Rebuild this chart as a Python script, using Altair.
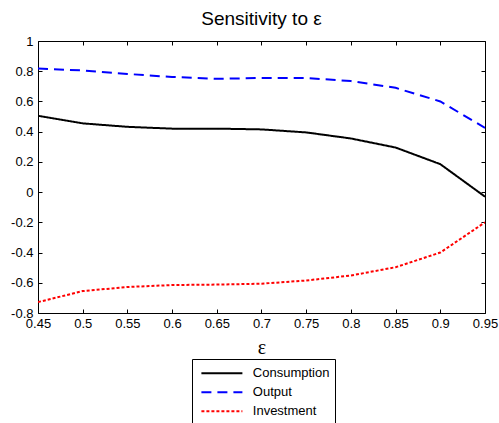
import altair as alt
import pandas as pd

eps = [0.45, 0.50, 0.55, 0.60, 0.65, 0.70, 0.75, 0.80, 0.85, 0.90, 0.95]
consumption = [0.505, 0.455, 0.432, 0.420, 0.420, 0.415, 0.395, 0.355, 0.295, 0.185, -0.030]
output = [0.818, 0.805, 0.782, 0.762, 0.750, 0.755, 0.755, 0.735, 0.690, 0.600, 0.425]
investment = [-0.728, -0.655, -0.628, -0.615, -0.612, -0.606, -0.585, -0.552, -0.497, -0.400, -0.200]

series_names = ["Consumption", "Output", "Investment"]
series_colors = ["#000000", "#0000ff", "#ff0000"]
series_dashes = [[1, 0], [10, 6], [3, 2]]

x_ticks = [0.45, 0.5, 0.55, 0.6, 0.65, 0.7, 0.75, 0.8, 0.85, 0.9, 0.95]
y_ticks = [-0.8, -0.6, -0.4, -0.2, 0, 0.2, 0.4, 0.6, 0.8, 1]

rows = []
for name, vals in zip(series_names, [consumption, output, investment]):
    for e, v in zip(eps, vals):
        rows.append({"eps": e, "value": v, "series": name})
df = pd.DataFrame(rows)

x_scale = alt.Scale(domain=[0.45, 0.95], nice=False, zero=False)
y_scale = alt.Scale(domain=[-0.8, 1], nice=False, zero=False)

FONT = "Liberation Sans"
minus_fix = "replace(datum.label, '\u2212', '-')"

legend = alt.Legend(
    title=None, orient="none", legendX=154, legendY=318,
    symbolType="stroke", symbolSize=1681, symbolStrokeWidth=2,
    labelFont=FONT, labelFontSize=13, labelColor="black",
    strokeColor="black", fillColor="white", padding=5,
    clipHeight=18.5, rowPadding=0, symbolOffset=3.4, labelOffset=9.4,
)

lines = alt.Chart(df).mark_line(strokeWidth=2, clip=True).encode(
    x=alt.X("eps:Q", scale=x_scale, axis=alt.Axis(
        orient="bottom", values=x_ticks, offset=-4, tickSize=4, domain=False,
        grid=False, format="~g", labelFont=FONT, labelFontSize=13,
        labelColor="black", tickColor="black", labelPadding=4,
        labelFlush=False, labelOverlap=False,
        title="ε", titleFont="Liberation Serif", titleFontSize=20,
        titleFontWeight="normal", titleColor="black", titlePadding=7)),
    y=alt.Y("value:Q", scale=y_scale, axis=alt.Axis(
        orient="left", values=y_ticks, offset=-4, tickSize=4, domain=False,
        grid=False, format="~g", labelExpr=minus_fix, labelFont=FONT,
        labelFontSize=13, labelColor="black", tickColor="black",
        labelPadding=5, labelFlush=False, labelOverlap=False, title=None)),
    color=alt.Color("series:N", scale=alt.Scale(domain=series_names, range=series_colors),
                    sort=series_names, legend=legend),
    strokeDash=alt.StrokeDash("series:N", scale=alt.Scale(domain=series_names, range=series_dashes),
                              sort=series_names, legend=legend),
)

frame_axes = alt.Chart(df).mark_point(opacity=0).encode(
    x=alt.X("eps:Q", scale=x_scale, axis=alt.Axis(
        orient="top", values=x_ticks, offset=-4, tickSize=4, domain=False,
        grid=False, labels=False, tickColor="black", title=None)),
    y=alt.Y("value:Q", scale=y_scale, axis=alt.Axis(
        orient="right", values=y_ticks, offset=-4, tickSize=4, domain=False,
        grid=False, labels=False, tickColor="black", title=None)),
)

chart = alt.layer(lines, frame_axes).resolve_axis(x="independent", y="independent").properties(
    width=447, height=272,
    title=alt.TitleParams("Sensitivity to ε", font=FONT, fontSize=19, fontWeight="normal",
                          color="black", anchor="middle", offset=6),
    autosize=alt.AutoSizeParams(type="none"),
    padding={"left": 38, "top": 41, "right": 14, "bottom": 110},
    background="white",
).configure_view(stroke="black", strokeWidth=1)

chart.save("out.html", embed_options={"renderer": "svg", "actions": False})
